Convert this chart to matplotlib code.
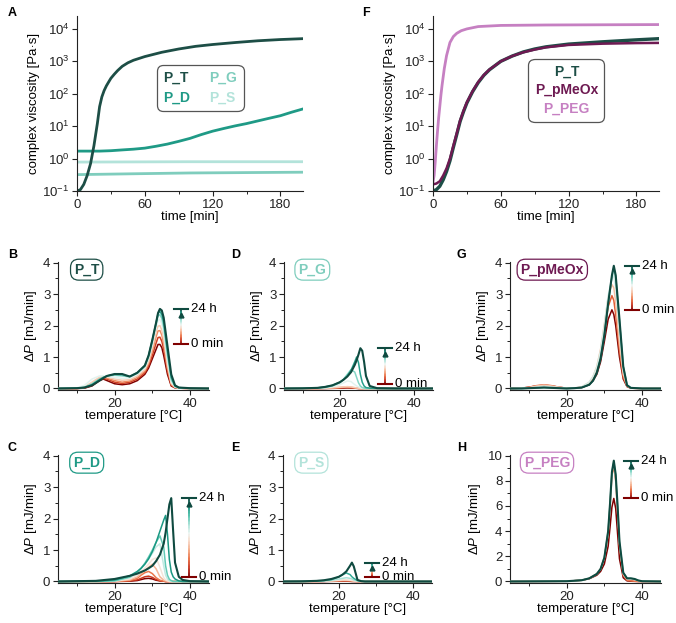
# rheology (A, F) + microcalorimetry (B-E, G, H) overview figure

import numpy as np
import matplotlib
matplotlib.use('Agg')
import matplotlib.pyplot as plt
from matplotlib.colors import LinearSegmentedColormap
from matplotlib.collections import LineCollection
from matplotlib.offsetbox import TextArea, VPacker, HPacker, AnchoredOffsetbox
from matplotlib.ticker import MultipleLocator, NullLocator, FixedLocator

plt.rcParams['font.family'] = ['Liberation Sans', 'DejaVu Sans']
plt.rcParams['mathtext.fontset'] = 'custom'
plt.rcParams['mathtext.rm'] = 'Liberation Sans'
plt.rcParams['mathtext.it'] = 'Liberation Sans:italic'
plt.rcParams['font.size'] = 9

# %% colours
c_T = '#1d4e46'
c_D = '#1f9a86'
c_G = '#7fcdbd'
c_S = '#b3e3da'
c_MeOx = '#6e1a52'
c_PEG = '#c680c2'
time_cmap = LinearSegmentedColormap.from_list('time', [
    '#7f0000', '#c62f1a', '#e8693c', '#f3a47e', '#f8d3bf',
    '#eef6f3', '#a9e2d7', '#4fc3ad', '#15937f', '#0f4a40'])

# %% A: complex viscosity [Pa s] vs time [min]
tA_T = [0, 3, 6, 9, 12, 15, 18, 20, 22, 24, 26, 28, 30, 33, 36, 40, 45, 50, 60, 75, 90, 105, 120, 140, 160, 180, 200]
vA_T = [0.1, 0.11, 0.16, 0.3, 0.7, 2.5, 12, 40, 80, 125, 175, 230, 300, 400, 520, 700, 900, 1080, 1400, 1900, 2400, 2900, 3300, 3800, 4300, 4700, 5000]
tA_D = [0, 10, 20, 30, 40, 50, 60, 70, 80, 90, 100, 110, 120, 130, 140, 150, 160, 170, 180, 190, 200]
vA_D = [1.7, 1.7, 1.7, 1.75, 1.85, 1.95, 2.1, 2.4, 2.8, 3.4, 4.2, 5.5, 7.0, 8.5, 10.2, 12, 14.5, 17.5, 21, 27, 34]
tA_G = [0, 50, 100, 150, 200]
vA_G = [0.32, 0.34, 0.36, 0.37, 0.38]
tA_S = [0, 50, 100, 150, 200]
vA_S = [0.78, 0.79, 0.8, 0.8, 0.8]

# %% F
tF = [0, 3, 6, 9, 12, 15, 18, 21, 24, 27, 30, 35, 40, 45, 50, 60, 70, 80, 90, 100, 120, 150, 180, 200]
vF_T = [0.1, 0.11, 0.14, 0.22, 0.4, 0.85, 2.2, 5.5, 14, 28, 52, 115, 220, 370, 550, 1000, 1450, 1950, 2400, 2800, 3400, 4000, 4600, 5000]
vF_MeOx = [0.16, 0.17, 0.2, 0.3, 0.5, 1.0, 2.5, 6, 15, 30, 55, 120, 230, 380, 560, 1000, 1450, 1900, 2300, 2700, 3200, 3500, 3650, 3700]
tF_PEG = [0, 1, 2, 3, 4, 5, 6, 7, 8, 10, 12, 15, 18, 21, 25, 30, 40, 60, 100, 150, 200]
vF_PEG = [0.19, 0.3, 0.8, 2.5, 7, 18, 40, 90, 180, 600, 1500, 3800, 5800, 7300, 8800, 10000, 11800, 12800, 13200, 13400, 13600]

# %% B: P_T, dP [mJ/min] vs temperature, 0 min -> 24 h
temp_B = [5, 10, 12, 14, 16, 17, 18, 20, 22, 24, 26, 28, 29, 30, 31, 31.5, 32, 32.5, 33, 34, 35, 36, 37, 40, 45]
dsc_B = [
    [0, 0, 0.01, 0.08, 0.25, 0.3, 0.25, 0.15, 0.12, 0.15, 0.25, 0.45, 0.65, 0.95, 1.25, 1.4, 1.4, 1.3, 1.05, 0.45, 0.08, 0.02, 0.01, 0, 0],
    [0, 0, 0.02, 0.1, 0.28, 0.32, 0.3, 0.2, 0.16, 0.2, 0.3, 0.5, 0.72, 1.05, 1.45, 1.62, 1.63, 1.5, 1.25, 0.55, 0.1, 0.03, 0.01, 0, 0],
    [0, 0, 0.03, 0.14, 0.32, 0.35, 0.33, 0.25, 0.2, 0.24, 0.35, 0.55, 0.8, 1.2, 1.65, 1.83, 1.84, 1.7, 1.42, 0.65, 0.13, 0.03, 0.01, 0, 0],
    [0, 0.01, 0.05, 0.2, 0.36, 0.38, 0.36, 0.3, 0.26, 0.28, 0.4, 0.6, 0.85, 1.3, 1.8, 1.98, 2.0, 1.85, 1.58, 0.75, 0.16, 0.04, 0.01, 0, 0],
    [0, 0.02, 0.1, 0.3, 0.4, 0.4, 0.38, 0.35, 0.32, 0.33, 0.45, 0.65, 0.95, 1.4, 1.95, 2.17, 2.2, 2.05, 1.78, 0.88, 0.2, 0.05, 0.02, 0, 0],
    [0, 0.01, 0.04, 0.15, 0.3, 0.36, 0.4, 0.42, 0.4, 0.37, 0.48, 0.7, 1.0, 1.5, 2.05, 2.3, 2.35, 2.22, 1.95, 1.05, 0.28, 0.06, 0.02, 0, 0],
    [0, 0.01, 0.03, 0.12, 0.28, 0.35, 0.4, 0.45, 0.44, 0.38, 0.5, 0.72, 1.05, 1.55, 2.1, 2.38, 2.45, 2.35, 2.1, 1.2, 0.35, 0.08, 0.03, 0, 0],
    [0, 0.01, 0.03, 0.1, 0.25, 0.33, 0.4, 0.46, 0.46, 0.38, 0.5, 0.73, 1.05, 1.55, 2.1, 2.4, 2.53, 2.48, 2.25, 1.35, 0.45, 0.1, 0.03, 0.01, 0],
]

# %% C: P_D
temp_C = [5, 15, 20, 24, 26, 27, 28, 29, 30, 31, 32, 33, 33.5, 34, 34.5, 35, 35.5, 36, 37, 38, 40, 45]
dsc_C = [
    [0, 0, 0, 0.01, 0.03, 0.06, 0.09, 0.1, 0.08, 0.04, 0.02, 0.01, 0, 0, 0, 0, 0, 0, 0, 0, 0, 0],
    [0, 0, 0, 0.02, 0.05, 0.1, 0.15, 0.17, 0.13, 0.06, 0.02, 0.01, 0, 0, 0, 0, 0, 0, 0, 0, 0, 0],
    [0, 0, 0, 0.03, 0.1, 0.2, 0.28, 0.32, 0.25, 0.12, 0.04, 0.01, 0, 0, 0, 0, 0, 0, 0, 0, 0, 0],
    [0, 0, 0.01, 0.05, 0.15, 0.25, 0.35, 0.45, 0.55, 0.4, 0.15, 0.04, 0.02, 0.01, 0, 0, 0, 0, 0, 0, 0, 0],
    [0, 0, 0.01, 0.08, 0.2, 0.3, 0.42, 0.55, 0.7, 0.75, 0.45, 0.12, 0.05, 0.02, 0, 0, 0, 0, 0, 0, 0, 0],
    [0, 0, 0.02, 0.12, 0.28, 0.4, 0.55, 0.72, 0.9, 1.1, 1.2, 0.5, 0.2, 0.08, 0.03, 0, 0, 0, 0, 0, 0, 0],
    [0, 0, 0.02, 0.14, 0.3, 0.42, 0.58, 0.78, 1.0, 1.25, 1.45, 1.1, 0.5, 0.2, 0.07, 0.03, 0, 0, 0, 0, 0, 0],
    [0, 0.01, 0.05, 0.18, 0.32, 0.42, 0.55, 0.72, 0.95, 1.25, 1.6, 1.95, 2.1, 1.5, 0.7, 0.3, 0.15, 0.08, 0.02, 0, 0, 0],
    [0, 0.02, 0.08, 0.18, 0.25, 0.3, 0.35, 0.42, 0.5, 0.65, 0.85, 1.2, 1.55, 2.0, 2.45, 2.65, 1.6, 0.6, 0.15, 0.05, 0.01, 0],
]

# %% D: P_G
temp_D = [5, 10, 14, 16, 18, 20, 21, 22, 23, 24, 24.5, 25, 25.5, 26, 26.5, 27, 28, 30, 35, 45]
dsc_D = [
    [0, 0, 0, 0, 0.005, 0.01, 0.015, 0.02, 0.015, 0.01, 0.005, 0, 0, 0, 0, 0, 0, 0, 0, 0],
    [0, 0, 0, 0.005, 0.01, 0.02, 0.025, 0.03, 0.025, 0.015, 0.01, 0.005, 0, 0, 0, 0, 0, 0, 0, 0],
    [0, 0, 0, 0.01, 0.02, 0.03, 0.04, 0.04, 0.035, 0.02, 0.01, 0.005, 0, 0, 0, 0, 0, 0, 0, 0],
    [0, 0, 0, 0.01, 0.02, 0.04, 0.05, 0.06, 0.05, 0.03, 0.02, 0.01, 0, 0, 0, 0, 0, 0, 0, 0],
    [0, 0, 0.01, 0.02, 0.05, 0.12, 0.18, 0.24, 0.22, 0.12, 0.08, 0.05, 0.03, 0.01, 0, 0, 0, 0, 0, 0],
    [0, 0, 0.01, 0.03, 0.08, 0.18, 0.3, 0.45, 0.6, 0.52, 0.35, 0.18, 0.08, 0.03, 0.01, 0, 0, 0, 0, 0],
    [0, 0.005, 0.02, 0.05, 0.1, 0.2, 0.28, 0.4, 0.58, 0.85, 1.0, 0.82, 0.45, 0.2, 0.08, 0.03, 0.01, 0, 0, 0],
    [0, 0.005, 0.02, 0.05, 0.1, 0.2, 0.28, 0.38, 0.52, 0.75, 0.9, 1.08, 1.28, 1.2, 0.85, 0.4, 0.08, 0.01, 0, 0],
]

# %% E: P_S
temp_E = [5, 10, 14, 16, 18, 20, 21, 22, 23, 23.5, 24, 25, 26, 27, 30, 45]
dsc_E = [
    [0, 0, 0, 0, 0.005, 0.01, 0.01, 0.01, 0.005, 0, 0, 0, 0, 0, 0, 0],
    [0, 0, 0, 0.005, 0.01, 0.015, 0.02, 0.02, 0.015, 0.01, 0.005, 0, 0, 0, 0, 0],
    [0, 0, 0, 0.01, 0.015, 0.025, 0.03, 0.03, 0.025, 0.02, 0.01, 0, 0, 0, 0, 0],
    [0, 0, 0, 0.01, 0.02, 0.04, 0.05, 0.05, 0.04, 0.03, 0.02, 0.01, 0, 0, 0, 0],
    [0, 0, 0.01, 0.02, 0.04, 0.08, 0.1, 0.12, 0.1, 0.08, 0.05, 0.02, 0, 0, 0, 0],
    [0, 0, 0.01, 0.03, 0.06, 0.15, 0.22, 0.27, 0.22, 0.15, 0.1, 0.03, 0.01, 0, 0, 0],
    [0, 0.005, 0.02, 0.04, 0.08, 0.15, 0.22, 0.32, 0.5, 0.6, 0.48, 0.05, 0.01, 0, 0, 0],
]

# %% G: P_pMeOx
temp_G = [5, 8, 10, 12, 14, 16, 18, 20, 22, 24, 26, 27, 28, 29, 30, 31, 32, 32.5, 33, 34, 35, 36, 37, 40, 45]
dsc_G = [
    [0, 0.01, 0.04, 0.08, 0.1, 0.08, 0.04, 0.01, 0.01, 0.03, 0.12, 0.25, 0.45, 0.85, 1.5, 2.2, 2.5, 2.35, 2.0, 1.0, 0.3, 0.06, 0.01, 0, 0],
    [0, 0.01, 0.04, 0.09, 0.12, 0.09, 0.04, 0.01, 0.01, 0.04, 0.15, 0.3, 0.55, 1.0, 1.75, 2.6, 2.95, 2.8, 2.35, 1.2, 0.35, 0.07, 0.01, 0, 0],
    [0, 0.01, 0.03, 0.08, 0.11, 0.08, 0.04, 0.01, 0.01, 0.05, 0.2, 0.38, 0.7, 1.25, 2.05, 2.9, 3.3, 3.2, 2.75, 1.45, 0.45, 0.08, 0.01, 0, 0],
    [0, 0.01, 0.02, 0.05, 0.07, 0.05, 0.03, 0.01, 0.01, 0.05, 0.2, 0.38, 0.68, 1.2, 2.0, 2.95, 3.5, 3.6, 3.2, 1.8, 0.55, 0.1, 0.02, 0, 0],
    [0, 0, 0.01, 0.02, 0.03, 0.02, 0.01, 0, 0.01, 0.03, 0.12, 0.25, 0.5, 0.95, 1.7, 2.7, 3.55, 3.85, 3.55, 2.15, 0.7, 0.12, 0.02, 0, 0],
    [0, 0, 0.01, 0.02, 0.03, 0.02, 0.01, 0, 0.01, 0.03, 0.12, 0.25, 0.5, 0.95, 1.7, 2.7, 3.6, 3.9, 3.6, 2.2, 0.7, 0.1, 0.02, 0, 0],
]

# %% H: P_PEG
temp_H = [5, 20, 24, 26, 28, 29, 30, 31, 31.5, 32, 32.5, 33, 33.5, 34, 35, 36, 37, 38, 39, 40, 45]
dsc_H = [
    [0, 0.02, 0.1, 0.22, 0.5, 0.8, 1.4, 2.8, 4.3, 5.9, 6.6, 5.8, 3.8, 1.8, 0.3, 0.05, 0.02, 0.01, 0, 0, 0],
    [0, 0.02, 0.1, 0.25, 0.6, 1.0, 1.9, 3.8, 6.0, 8.4, 9.2, 8.0, 5.5, 2.8, 0.5, 0.1, 0.05, 0.02, 0, 0, 0],
    [0, 0.02, 0.1, 0.25, 0.6, 1.0, 1.9, 3.9, 6.1, 8.6, 9.4, 8.3, 5.8, 3.0, 0.6, 0.2, 0.2, 0.15, 0.05, 0.01, 0],
    [0, 0.02, 0.1, 0.25, 0.6, 1.0, 1.9, 4.0, 6.2, 8.7, 9.5, 8.4, 5.9, 3.1, 0.7, 0.25, 0.25, 0.2, 0.08, 0.02, 0],
    [0, 0.02, 0.1, 0.25, 0.6, 1.0, 1.9, 4.0, 6.2, 8.7, 9.6, 8.5, 6.0, 3.2, 0.7, 0.25, 0.25, 0.2, 0.08, 0.02, 0],
]

# %% figure
W, H = 676, 623
fig = plt.figure(figsize=(W / 100, H / 100), dpi=100)


def px_axes(left, top, right, bottom):
    return fig.add_axes([left / W, 1 - bottom / H, (right - left) / W, (bottom - top) / H])


def style(ax):
    for s in ['top', 'right']:
        ax.spines[s].set_visible(False)
    for s in ['left', 'bottom']:
        ax.spines[s].set_linewidth(0.8)
        ax.spines[s].set_color('#222222')
    ax.tick_params(which='major', direction='out', length=3.5, width=0.8, pad=2, colors='#222222', labelsize=9.5)
    ax.tick_params(which='minor', direction='out', length=2, width=0.7, colors='#222222')


def text_box(ax, x, y, rows, ncol_layout=False):
    # legend-like rounded box with coloured bold labels
    if ncol_layout:
        cols = []
        for col in rows:
            cols.append(VPacker(children=[TextArea(t, textprops=dict(color=c, weight='bold', size=10))
                                          for t, c in col], align='left', pad=0, sep=4))
        child = HPacker(children=cols, align='top', pad=0, sep=14)
    else:
        child = VPacker(children=[TextArea(t, textprops=dict(color=c, weight='bold', size=10))
                                  for t, c in rows], align='center', pad=0, sep=3)
    ab = AnchoredOffsetbox(loc='center', child=child, pad=0.5, frameon=True, borderpad=0,
                           bbox_to_anchor=(x, y), bbox_transform=ax.transAxes)
    ab.patch.set_boxstyle('round', pad=0, rounding_size=0.5)
    ab.patch.set_edgecolor('#555555')
    ab.patch.set_linewidth(0.9)
    ax.add_artist(ab)


def visc_axes(ax):
    style(ax)
    ax.set_yscale('log')
    ax.set_xlim(0, 200)
    ax.set_ylim(0.1, 2.5e4)
    ax.xaxis.set_major_locator(FixedLocator([0, 60, 120, 180]))
    ax.xaxis.set_minor_locator(FixedLocator([30, 90, 150]))
    ax.yaxis.set_minor_locator(NullLocator())
    ax.set_xlabel('time [min]', labelpad=0, size=9.5)
    ax.set_ylabel('complex viscosity [Pa·s]', labelpad=2, size=9.5)


def dsc_panel(ax, temps, traces, name, color, ind_x, ymax, step, box_x):
    style(ax)
    n = len(traces)
    for i, tr in enumerate(traces):
        col = time_cmap(i / (n - 1))
        ax.plot(temps, tr, color=col, lw=1.5 if i == n - 1 else 1.1, solid_joinstyle='round', zorder=2 + i)
    ax.set_xlim(5, 45)
    ax.set_ylim(-0.012 * ymax, ymax * 1.005)
    ax.xaxis.set_major_locator(MultipleLocator(20))
    ax.xaxis.set_minor_locator(MultipleLocator(10))
    ax.yaxis.set_major_locator(MultipleLocator(step))
    ax.yaxis.set_minor_locator(MultipleLocator(step / 2))
    ax.set_xlabel('temperature [°C]', labelpad=0, size=9.5)
    ax.set_ylabel('Δ$P$ [mJ/min]', labelpad=3, size=9.5)
    ax.text(box_x, 0.94, name, transform=ax.transAxes, ha='center', va='center',
            color=color, weight='bold', size=10,
            bbox=dict(boxstyle='round,pad=0.25,rounding_size=0.6', fc='white', ec=color, lw=0.9))
    # time indicator: gradient bar from first-trace peak to last-trace peak
    top = max(traces[-1])
    bot = max(max(traces[0]), 0.035 * ymax)
    ys = np.linspace(bot, top, 60)
    segs = [[(ind_x, ys[k]), (ind_x, ys[k + 1])] for k in range(len(ys) - 1)]
    lc = LineCollection(segs, colors=time_cmap(np.linspace(0, 1, len(segs))), lw=1.3, zorder=20)
    ax.add_collection(lc)
    ax.plot([ind_x - 1.9, ind_x + 1.9], [top, top], color=time_cmap(1.0), lw=1.5, zorder=21)
    ax.plot([ind_x - 1.9, ind_x + 1.9], [bot, bot], color=time_cmap(0.0), lw=1.5, zorder=21)
    ax.plot([ind_x], [top - 0.045 * ymax], marker='^', ms=3.5, color=time_cmap(1.0), zorder=22)
    ax.text(ind_x + 2.6, top, '24 h', va='center', ha='left', size=9.5)
    ax.text(ind_x + 2.6, bot, '0 min', va='center', ha='left', size=9.5)


# A
axA = px_axes(77, 16, 303, 191)
visc_axes(axA)
axA.plot(tA_S, vA_S, color=c_S, lw=2)
axA.plot(tA_G, vA_G, color=c_G, lw=2)
axA.plot(tA_D, vA_D, color=c_D, lw=2)
axA.plot(tA_T, vA_T, color=c_T, lw=2)
text_box(axA, 0.545, 0.59, [[('P_T', c_T), ('P_D', c_D)], [('P_G', c_G), ('P_S', c_S)]], ncol_layout=True)

# F
axF = px_axes(433, 16, 659, 191)
visc_axes(axF)
axF.plot(tF_PEG, vF_PEG, color=c_PEG, lw=2)
axF.plot(tF, vF_T, color=c_T, lw=2.4)
axF.plot(tF, vF_MeOx, color=c_MeOx, lw=1.8)
text_box(axF, 0.59, 0.575, [('P_T', c_T), ('P_pMeOx', c_MeOx), ('P_PEG', c_PEG)])

# DSC panels
axB = px_axes(58, 262, 209, 390)
dsc_panel(axB, temp_B, dsc_B, 'P_T', c_T, 37.5, 4, 1, 0.19)
axC = px_axes(58, 455, 209, 583)
dsc_panel(axC, temp_C, dsc_C, 'P_D', c_D, 39.7, 4, 1, 0.19)
axD = px_axes(284, 262, 433, 390)
dsc_panel(axD, temp_D, dsc_D, 'P_G', c_G, 32.1, 4, 1, 0.19)
axE = px_axes(283, 455, 432, 583)
dsc_panel(axE, temp_E, dsc_E, 'P_S', c_S, 28.9, 4, 1, 0.19)
axG = px_axes(510, 262, 661, 390)
dsc_panel(axG, temp_G, dsc_G, 'P_pMeOx', c_MeOx, 37.4, 4, 1, 0.28)
axH = px_axes(510, 455, 661, 583)
dsc_panel(axH, temp_H, dsc_H, 'P_PEG', c_PEG, 37.0, 10, 2, 0.245)

# panel letters
for lbl, x, y in [('A', 8, 7), ('B', 8, 249), ('C', 8, 442), ('D', 231, 249),
                  ('E', 231, 442), ('F', 362, 7), ('G', 457, 249), ('H', 457, 442)]:
    fig.text(x / W, 1 - y / H, lbl, ha='left', va='top', weight='bold', size=9)

fig.savefig('out.png', dpi=100)
